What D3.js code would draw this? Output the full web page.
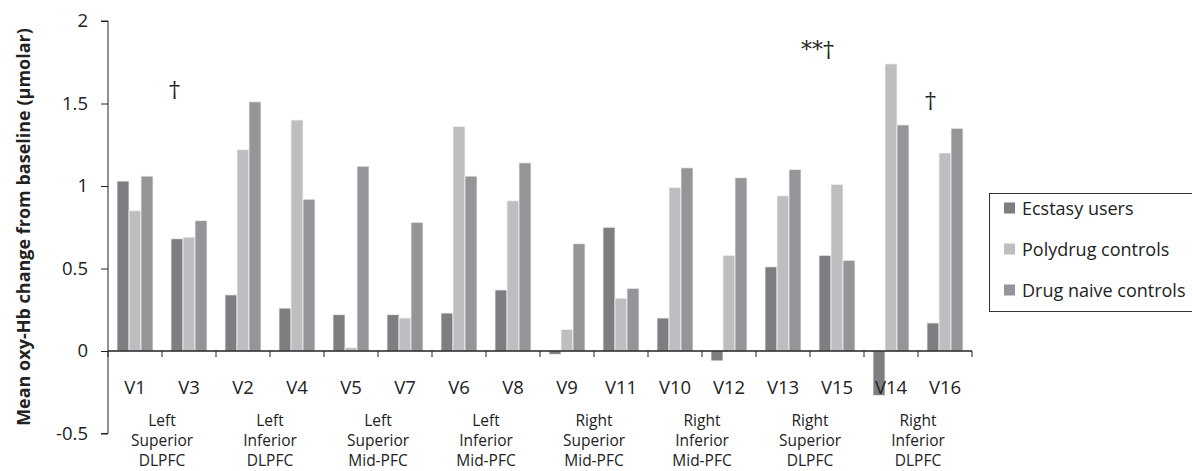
<!DOCTYPE html>
<html>
<head>
<meta charset="utf-8">
<script src="https://cdn.jsdelivr.net/npm/d3@7"></script>
<style>
  body { margin: 0; background: #fff; }
  svg { display: block; font-family: "Open Sans", sans-serif; }
</style>
</head>
<body>
<div id="vis"></div>
<script>
const svgWidth = 1192;
const svgHeight = 471;

// channels in display order
const channels = ['V1', 'V3', 'V2', 'V4', 'V5', 'V7', 'V6', 'V8', 'V9', 'V11', 'V10', 'V12', 'V13', 'V15', 'V14', 'V16'];
const seriesNames = ['Ecstasy users', 'Polydrug controls', 'Drug naive controls'];

const ecstasy = [1.03, 0.68, 0.34, 0.26, 0.22, 0.22, 0.23, 0.37, -0.02, 0.75, 0.20, -0.06, 0.51, 0.58, -0.27, 0.17];
const polydrug = [0.85, 0.69, 1.22, 1.40, 0.02, 0.20, 1.36, 0.91, 0.13, 0.32, 0.99, 0.58, 0.94, 1.01, 1.74, 1.20];
const naive = [1.06, 0.79, 1.51, 0.92, 1.12, 0.78, 1.06, 1.14, 0.65, 0.38, 1.11, 1.05, 1.10, 0.55, 1.37, 1.35];

const regions = [
  ['Left', 'Superior', 'DLPFC'],
  ['Left', 'Inferior', 'DLPFC'],
  ['Left', 'Superior', 'Mid-PFC'],
  ['Left', 'Inferior', 'Mid-PFC'],
  ['Right', 'Superior', 'Mid-PFC'],
  ['Right', 'Inferior', 'Mid-PFC'],
  ['Right', 'Superior', 'DLPFC'],
  ['Right', 'Inferior', 'DLPFC'],
];

const yTicks = [-0.5, 0, 0.5, 1, 1.5, 2];

// significance marks
const marks = [
  { channel: 'V3', text: '†', dx: -20, value: 1.54 },
  { channel: 'V15', text: '**†', dx: -36, value: 1.78 },
  { channel: 'V16', text: '†', dx: -20, value: 1.47 },
];

const colors = ['#7d7e82', '#bdbec0', '#949599'];

const svg = d3.select('#vis').append('svg').attr('width', svgWidth).attr('height', svgHeight);

const x = d3.scaleBand().domain(channels).range([108, 972]).paddingInner(0).paddingOuter(0);
const y = d3.scaleLinear().domain([-0.5, 2]).range([433.5, 21]);
const xs = d3.scaleBand().domain(seriesNames).range([9, x.bandwidth() - 9]);

const table = channels.map((c, i) => ({ channel: c, values: [ecstasy[i], polydrug[i], naive[i]] }));

// bars
const groups = svg.append('g').selectAll('g').data(table).join('g')
  .attr('transform', (d) => `translate(${x(d.channel)},0)`);

groups.selectAll('rect')
  .data((d) => d.values.map((v, i) => ({ v, i })))
  .join('rect')
  .attr('x', (d) => xs(seriesNames[d.i]))
  .attr('width', xs.bandwidth())
  .attr('y', (d) => y(Math.max(0, d.v)))
  .attr('height', (d) => Math.abs(y(d.v) - y(0)))
  .attr('fill', (d) => colors[d.i])
  .attr('stroke', '#f2f2f2')
  .attr('stroke-width', 0.8);

// y axis
const yAxis = d3.axisLeft(y).tickValues(yTicks).tickSize(7).tickPadding(13).tickFormat((d) => String(d));
svg.append('g').attr('class', 'y-axis').attr('transform', 'translate(108,0)').call(yAxis)
  .call((g) => g.select('.domain').attr('stroke', '#222').attr('d', `M-7,${y(2)}H0V${y(-0.5)}H-7`))
  .call((g) => g.selectAll('.tick line').attr('stroke', '#222'))
  .call((g) => g.selectAll('.tick text').attr('font-size', 18.5).attr('fill', '#222').attr('font-family', '"Open Sans", sans-serif'));

// x axis at zero
const xTickPos = channels.map((c) => x(c)).concat([x.range()[1]]);
const xAxisG = svg.append('g').attr('class', 'x-axis');
xAxisG.append('line')
  .attr('x1', 108).attr('x2', 972)
  .attr('y1', y(0)).attr('y2', y(0))
  .attr('stroke', '#222').attr('stroke-width', 1.5);
xAxisG.selectAll('.tk').data(xTickPos).join('line')
  .attr('class', 'tk')
  .attr('x1', (d) => d).attr('x2', (d) => d)
  .attr('y1', y(0)).attr('y2', y(0) + 6)
  .attr('stroke', '#222');

xAxisG.selectAll('.lbl').data(channels).join('text')
  .attr('class', 'lbl')
  .attr('x', (d) => x(d) + x.bandwidth() / 2)
  .attr('y', 394)
  .attr('text-anchor', 'middle')
  .attr('font-size', 18.5)
  .attr('fill', '#222')
  .text((d) => d);

// region labels
const regionG = svg.append('g');
regions.forEach((lines, i) => {
  const cx = x(channels[i * 2]) + x.bandwidth();
  const t = regionG.append('text')
    .attr('x', cx)
    .attr('text-anchor', 'middle')
    .attr('font-size', 15.5)
    .attr('fill', '#222');
  lines.forEach((line, j) => {
    t.append('tspan').attr('x', cx).attr('y', 426 + j * 20).text(line);
  });
});

// significance marks
svg.append('g').selectAll('text').data(marks).join('text')
  .attr('x', (d) => x(d.channel) + x.bandwidth() / 2 + d.dx)
  .attr('y', (d) => y(d.value))
  .attr('font-family', '"DejaVu Serif", serif')
  .attr('font-size', 22)
  .attr('fill', '#222')
  .text((d) => d.text);

// y axis title
svg.append('text')
  .attr('transform', 'translate(30,227) rotate(-90)')
  .attr('text-anchor', 'middle')
  .attr('font-size', 18)
  .attr('font-weight', 'bold')
  .attr('fill', '#222')
  .text('Mean oxy-Hb change from baseline (μmolar)');

// legend
const legend = svg.append('g');
legend.append('rect')
  .attr('x', 989.5).attr('y', 193.5)
  .attr('width', 240).attr('height', 118)
  .attr('fill', '#fff').attr('stroke', '#333').attr('stroke-width', 1);
seriesNames.forEach((name, i) => {
  const ly = 208 + i * 41;
  legend.append('rect')
    .attr('x', 1004).attr('y', ly - 5.5)
    .attr('width', 11).attr('height', 11)
    .attr('fill', colors[i]);
  legend.append('text')
    .attr('x', 1022).attr('y', ly + 6.5)
    .attr('font-size', 18)
    .attr('fill', '#222')
    .text(name);
});
</script>
</body>
</html>
